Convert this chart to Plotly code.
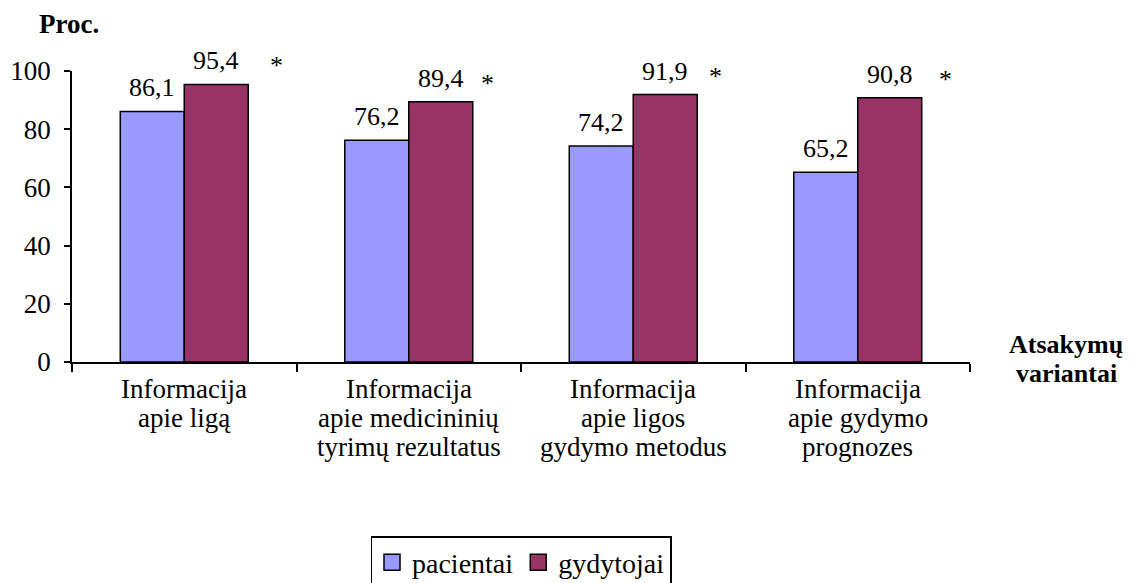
import plotly.graph_objects as go

# Answer options (x categories) and share of respondents, %
categories = [
    "Informacija\napie ligą",
    "Informacija\napie medicininių\ntyrimų rezultatus",
    "Informacija\napie ligos\ngydymo metodus",
    "Informacija\napie gydymo\nprognozes",
]
pacientai = [86.1, 76.2, 74.2, 65.2]
gydytojai = [95.4, 89.4, 91.9, 90.8]
significant = ["*", "*", "*", "*"]
y_ticks = [0, 20, 40, 60, 80, 100]

FONT = "Liberation Serif"
BLUE = "#9999FF"
PLUM = "#993366"
SIZE = 26
LABEL_SIZE = 27
LINE_STEP = 29  # px between lines of the category captions
BARGAP = 0.43
BAR_W = (1 - BARGAP) / 2  # width of one bar in category units


def fmt(v):
    return f"{v:.1f}".replace(".", ",")


fig = go.Figure()
series = (("pacientai", pacientai, BLUE), ("gydytojai", gydytojai, PLUM))
for s, (name, vals, color) in enumerate(series):
    fig.add_trace(go.Bar(
        name=name, x=categories, y=vals, showlegend=False,
        marker=dict(color=color, line=dict(color="black", width=1.5)),
    ))
    # legend entry with a larger square swatch
    fig.add_trace(go.Scatter(
        name=name, x=[None], y=[None], mode="markers",
        marker=dict(symbol="square", size=16, color=color,
                    line=dict(color="black", width=1.5)),
    ))
    # value labels above each bar
    for i, v in enumerate(vals):
        fig.add_annotation(
            x=i + (s - 0.5) * BAR_W, y=v, xref="x", yref="y", text=fmt(v),
            showarrow=False, xanchor="center", yanchor="bottom", yshift=7,
            font=dict(family=FONT, size=SIZE, color="black"),
        )

# significance markers beside the physicians' bars
star_offsets = [0.41, 0.35, 0.365, 0.39]
for i, (mark, v) in enumerate(zip(significant, gydytojai)):
    fig.add_annotation(
        x=i + star_offsets[i], y=v, xref="x", yref="y", text=mark,
        showarrow=False, yanchor="bottom", xanchor="center", yshift=2,
        font=dict(family=FONT, size=SIZE, color="black"),
    )

# category captions, one annotation per line for tight leading
for i, cat in enumerate(categories):
    for k, line in enumerate(cat.split("\n")):
        fig.add_annotation(
            x=i, y=0, xref="x", yref="y", text=line, showarrow=False,
            xanchor="center", yanchor="middle", yshift=-(27 + LINE_STEP * k),
            font=dict(family=FONT, size=LABEL_SIZE, color="black"),
        )

fig.add_annotation(
    x=-0.039, y=1.162, xref="paper", yref="paper", text="<b>Proc.</b>",
    showarrow=False, xanchor="left", yanchor="middle",
    font=dict(family=FONT, size=27, color="black"),
)
for k, word in enumerate(["Atsakymų", "variantai"]):
    fig.add_annotation(
        x=1.107, y=0, xref="paper", yref="paper", text=f"<b>{word}</b>",
        showarrow=False, xanchor="center", yanchor="middle",
        yshift=18 - 29 * k,
        font=dict(family=FONT, size=26, color="black"),
    )

fig.update_layout(
    width=1141, height=583,
    margin=dict(l=72, r=171, t=71, b=221, autoexpand=False),
    paper_bgcolor="white", plot_bgcolor="white",
    barmode="group", bargap=BARGAP, bargroupgap=0,
    font=dict(family=FONT, size=SIZE, color="black"),
    showlegend=True,
    legend=dict(
        orientation="h", x=0.5, xanchor="center", y=-0.598, yanchor="top",
        bordercolor="black", borderwidth=1.5, bgcolor="white",
        font=dict(family=FONT, size=28, color="black"),
        itemwidth=30, tracegroupgap=0, itemsizing="trace",
    ),
)
fig.update_xaxes(
    showline=True, linecolor="black", linewidth=1.5, showticklabels=False,
    ticks="outside", tickson="boundaries", ticklen=8, tickwidth=1.5,
    tickcolor="black", showgrid=False, range=[-0.5, 3.5],
)
fig.update_yaxes(
    range=[0, 100], tickvals=y_ticks, showline=True, linecolor="black",
    linewidth=1.5, ticks="outside", ticklen=6, tickwidth=1.5,
    tickcolor="black", showgrid=False, zeroline=False, ticklabelstandoff=8,
    tickfont=dict(family=FONT, size=27, color="black"),
)

fig.write_html("out.html")
